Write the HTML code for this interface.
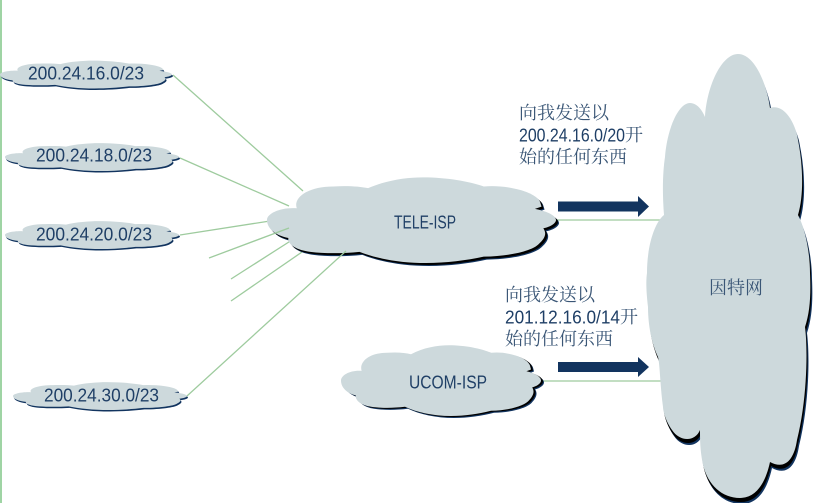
<!DOCTYPE html>
<html><head><meta charset="utf-8"><style>
html,body{margin:0;padding:0;background:#fff;width:833px;height:503px;overflow:hidden}
svg{display:block}
.l{font-family:"Liberation Sans",sans-serif;fill:#1f3f66}
.c{font-family:"Noto Serif CJK SC","Liberation Serif",serif;fill:#3a5676;font-size:18px}
</style></head><body>
<svg width="833" height="503" viewBox="0 0 833 503" xmlns="http://www.w3.org/2000/svg">
<defs>
<path id="k" d="M0,50 C0,42 5,35 10.3,36.4 C9,24 14,11 23,11 C28,10 32,11 35,13 C41,4 48,0.4 54,0.4 C62,0.4 70,5 75,11 C79,10 83,11 87.5,15 C91,18 94,24 94.5,29 L95,34.5 L92.7,37 C96,39 100,44 100,50 C100,54 98,58 95.6,59.7 C97,66 96,72 94,78 C92,85 85,92 75,92.6 C69,97 62,100 55,100 C46,100 38,95 32,87 C26,89 20,89 15,87 C10,85 7,78 7.4,71 C3,68 0,60 0,50 Z"/>
<path id="n" d="M738,54 C755,54 767,85 770,108 C785,103 796,125 798,140 C803,165 804,195 798,215 C806,230 810,255 810,273 C811,295 810,312 805,327 C808,350 807,400 797,440 C794,460 785,470 770,462 C765,485 755,498 740,498 C722,498 708,485 703,465 C700,450 700,440 700,430 C695,442 680,442 672,430 C665,420 663,410 663,407 C660,385 660,365 658,357 C650,340 648,320 648,307 C646,290 646,280 647,273 C647,245 655,222 664,215 C662,190 663,170 665,157 C667,130 678,103 690,103 C697,103 702,110 705,117 C707,85 722,54 738,54 Z"/>
</defs>
<rect x="0" y="0" width="2" height="503" fill="#9fd4a4"/>
<g stroke="#9ecb9e" stroke-width="1.3" fill="none">
<line x1="173" y1="75" x2="303" y2="191"/>
<line x1="180" y1="158" x2="289" y2="206"/>
<line x1="180" y1="235" x2="270" y2="221"/>
<line x1="231" y1="279" x2="292" y2="240"/>
<line x1="231" y1="301" x2="302" y2="252"/>
<line x1="556" y1="220" x2="664" y2="220"/>
<line x1="541" y1="381" x2="662" y2="381"/>
</g>
<!-- internet cloud -->
<use href="#n" transform="translate(2,6)" fill="#12345f"/>
<use href="#n" transform="translate(1,4)" fill="#000"/>
<use href="#n" fill="#cdd9dc"/>
<!-- TELE -->
<use href="#k" transform="translate(270,180) scale(2.89,0.86)" fill="#12345f"/>
<use href="#k" transform="translate(269,179) scale(2.89,0.86)" fill="#000"/>
<use href="#k" transform="translate(267,177) scale(2.89,0.86)" fill="#cdd9dc"/>
<!-- UCOM -->
<use href="#k" transform="translate(344,347) scale(2,0.71)" fill="#12345f"/>
<use href="#k" transform="translate(343,346) scale(2,0.71)" fill="#000"/>
<use href="#k" transform="translate(341,345) scale(2,0.71)" fill="#cdd9dc"/>
<!-- small clouds -->
<use href="#k" transform="translate(1,62) scale(1.72,0.28)" fill="#12345f"/>
<use href="#k" transform="translate(0,60.5) scale(1.72,0.28)" fill="#cdd9dc"/>
<use href="#k" transform="translate(6,144.5) scale(1.74,0.28)" fill="#12345f"/>
<use href="#k" transform="translate(5,143) scale(1.74,0.28)" fill="#cdd9dc"/>
<use href="#k" transform="translate(6,222.5) scale(1.74,0.28)" fill="#12345f"/>
<use href="#k" transform="translate(5,221) scale(1.74,0.28)" fill="#cdd9dc"/>
<use href="#k" transform="translate(14,383.5) scale(1.74,0.28)" fill="#12345f"/>
<use href="#k" transform="translate(13,382) scale(1.74,0.28)" fill="#cdd9dc"/>
<g stroke="#9ecb9e" stroke-width="1.3" fill="none">
<line x1="209" y1="258" x2="289" y2="228"/>
<line x1="187" y1="396" x2="346" y2="251"/>
</g>
<!-- arrows -->
<path d="M558,201.5 H638 V196 L649,206.5 L638,217 V211.5 H558 Z" fill="#12345f"/>
<path d="M558,362 H638 V357 L649,367 L638,377 V372 H558 Z" fill="#12345f"/>
<!-- labels -->
<g class="l" font-size="18">
<text x="28" y="79.5" textLength="116" lengthAdjust="spacingAndGlyphs">200.24.16.0/23</text>
<text x="36" y="161.5" textLength="116" lengthAdjust="spacingAndGlyphs">200.24.18.0/23</text>
<text x="36" y="240.5" textLength="116" lengthAdjust="spacingAndGlyphs">200.24.20.0/23</text>
<text x="44" y="401.5" textLength="115" lengthAdjust="spacingAndGlyphs">200.24.30.0/23</text>
<text x="394" y="228.5" textLength="62" lengthAdjust="spacingAndGlyphs">TELE-ISP</text>
<text x="409" y="388.5" textLength="78" lengthAdjust="spacingAndGlyphs">UCOM-ISP</text>
<text x="519" y="141.5" textLength="106" lengthAdjust="spacingAndGlyphs">200.24.16.0/20</text>
<text x="505" y="323.5" textLength="115" lengthAdjust="spacingAndGlyphs">201.12.16.0/14</text>
</g>
<g class="c">
<text x="519" y="119">向我发送以</text>
<text x="625" y="141">开</text>
<text x="519" y="163">始的任何东西</text>
<text x="505" y="301">向我发送以</text>
<text x="620" y="323">开</text>
<text x="505" y="345">始的任何东西</text>
<text x="709" y="294">因特网</text>
</g>
</svg>
</body></html>
